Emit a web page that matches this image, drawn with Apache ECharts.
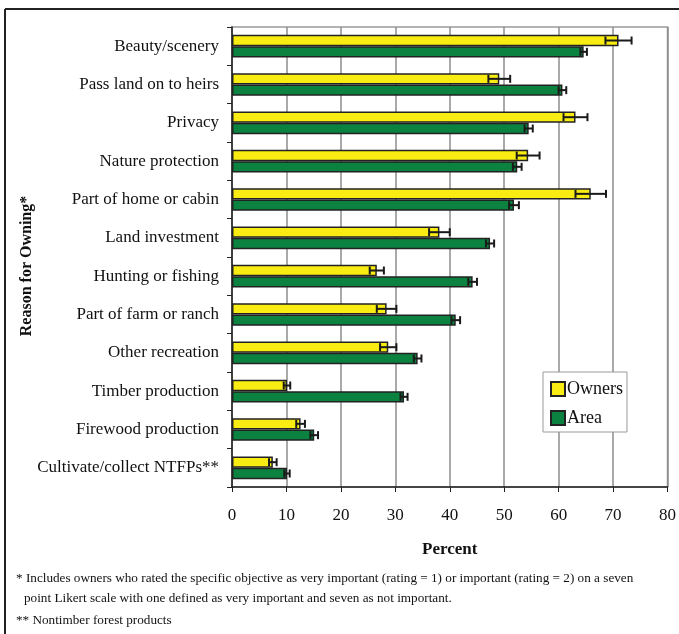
<!DOCTYPE html>
<html>
<head>
<meta charset="utf-8">
<script src="https://cdn.jsdelivr.net/npm/echarts@6/dist/echarts.min.js"></script>
<style>
  html, body { margin: 0; padding: 0; background: #fff; }
  #chart { width: 679px; height: 634px; }
</style>
</head>
<body>
<div id="chart"></div>
<script>
// Reasons for owning, top to bottom
var categories = [
  'Beauty/scenery', 'Pass land on to heirs', 'Privacy', 'Nature protection',
  'Part of home or cabin', 'Land investment', 'Hunting or fishing',
  'Part of farm or ranch', 'Other recreation', 'Timber production',
  'Firewood production', 'Cultivate/collect NTFPs**'
];
// Percent of owners citing each reason, with standard errors
var owners    = [71.0, 49.1, 63.1, 54.4, 65.9, 38.1, 26.6, 28.4, 28.7, 10.1, 12.6, 7.5];
var ownersErr = [2.4, 2.0, 2.2, 2.1, 2.8, 1.9, 1.3, 1.8, 1.5, 0.6, 0.8, 0.7];
// Percent of area held by those owners, with standard errors
var area      = [64.6, 60.7, 54.5, 52.4, 51.8, 47.4, 44.2, 41.1, 34.1, 31.6, 15.1, 10.1];
var areaErr   = [0.6, 0.7, 0.75, 0.8, 0.9, 0.75, 0.8, 0.8, 0.7, 0.65, 0.7, 0.5];
var xTicks = [0, 10, 20, 30, 40, 50, 60, 70, 80];

var SERIF = '"Liberation Serif", "DejaVu Serif", serif';
var BAR_W = 11.3;

function errorData(vals, errs) {
  return vals.map(function (v, i) { return [i, v, errs[i]]; });
}

// Whisker for each bar; offset moves it onto the upper or lower bar of the pair
function errorRenderer(offset) {
  return function (params, api) {
    var idx = api.value(0), v = api.value(1), e = api.value(2);
    var lo = api.coord([v - e, idx]);
    var hi = api.coord([v + e, idx]);
    var y = lo[1] + offset;
    var cap = 4;
    var style = { stroke: '#1a1a1a', lineWidth: 2 };
    return {
      type: 'group',
      children: [
        { type: 'line', shape: { x1: lo[0], y1: y, x2: hi[0], y2: y }, style: style },
        { type: 'line', shape: { x1: lo[0], y1: y - cap, x2: lo[0], y2: y + cap }, style: style },
        { type: 'line', shape: { x1: hi[0], y1: y - cap, x2: hi[0], y2: y + cap }, style: style }
      ]
    };
  };
}

var chart = echarts.init(document.getElementById('chart'), null, { renderer: 'canvas' });
chart.setOption({
  animation: false,
  backgroundColor: '#fff',
  textStyle: { fontFamily: SERIF },
  grid: {
    left: 232, top: 27, width: 438, height: 460,
    show: true, borderColor: '#9a9a9a', borderWidth: 1.5, backgroundColor: 'transparent'
  },
  legend: {
    data: ['Owners', 'Area'],
    orient: 'vertical',
    left: 543, top: 372,
    padding: [8, 4, 5, 7],
    itemGap: 11,
    itemWidth: 14, itemHeight: 14,
    borderColor: '#9a9a9a', borderWidth: 1,
    backgroundColor: '#fff',
    icon: 'rect',
    textStyle: { fontFamily: SERIF, fontSize: 18, color: '#111', padding: [0, 0, 0, -3] }
  },
  xAxis: {
    type: 'value',
    min: 0, max: 80, interval: 10,
    name: 'Percent',
    nameLocation: 'middle',
    nameGap: 54,
    nameTextStyle: { fontFamily: SERIF, fontSize: 17, fontWeight: 'bold', color: '#111' },
    axisLine: { show: true, lineStyle: { color: '#222', width: 1.5 } },
    axisTick: { show: true, length: 5, lineStyle: { color: '#222' } },
    axisLabel: {
      margin: 20, fontFamily: SERIF, fontSize: 17, color: '#111',
      formatter: function (v) { return xTicks.indexOf(v) >= 0 ? String(v) : ''; }
    },
    splitLine: { show: true, lineStyle: { color: '#8c8c8c', width: 1.5 } }
  },
  yAxis: {
    type: 'category',
    data: categories,
    inverse: true,
    axisLine: { show: true, lineStyle: { color: '#222', width: 1.5 } },
    axisTick: { show: true, length: 5, lineStyle: { color: '#222' } },
    axisLabel: { margin: 13, fontFamily: SERIF, fontSize: 17, color: '#111' },
    splitLine: { show: false }
  },
  series: [
    {
      name: 'Owners', type: 'bar', data: owners,
      barWidth: BAR_W, barGap: '0%',
      itemStyle: { color: '#f8ec12', borderColor: '#222', borderWidth: 1.5 },
      z: 2
    },
    {
      name: 'Area', type: 'bar', data: area,
      barWidth: BAR_W, barGap: '0%',
      itemStyle: { color: '#0b823f', borderColor: '#222', borderWidth: 1.5 },
      z: 2
    },
    {
      type: 'custom', data: errorData(owners, ownersErr),
      encode: { x: [1, 2], y: 0 },
      renderItem: errorRenderer(-BAR_W / 2), z: 5
    },
    {
      type: 'custom', data: errorData(area, areaErr),
      encode: { x: [1, 2], y: 0 },
      renderItem: errorRenderer(BAR_W / 2), z: 5
    }
  ],
  graphic: [
    // frame along the top and left
    { type: 'line', shape: { x1: 5, y1: 9, x2: 679, y2: 9 }, style: { stroke: '#222', lineWidth: 2 } },
    { type: 'line', shape: { x1: 5, y1: 9, x2: 5, y2: 634 }, style: { stroke: '#222', lineWidth: 2 } },
    {
      type: 'text', x: 27, y: 266, rotation: Math.PI / 2,
      style: {
        text: 'Reason for Owning*', font: 'bold 16px ' + SERIF, fill: '#111',
        textAlign: 'center', textVerticalAlign: 'middle'
      }
    },
    {
      type: 'text', left: 16, top: 572,
      style: {
        text: '* Includes owners who rated the specific objective as very important (rating = 1) or important (rating = 2) on a seven',
        font: '13.2px ' + SERIF, fill: '#111'
      }
    },
    {
      type: 'text', left: 24, top: 592,
      style: {
        text: 'point Likert scale with one defined as very important and seven as not important.',
        font: '13.2px ' + SERIF, fill: '#111'
      }
    },
    {
      type: 'text', left: 16, top: 614,
      style: { text: '** Nontimber forest products', font: '13.2px ' + SERIF, fill: '#111' }
    }
  ]
});
</script>
</body>
</html>
